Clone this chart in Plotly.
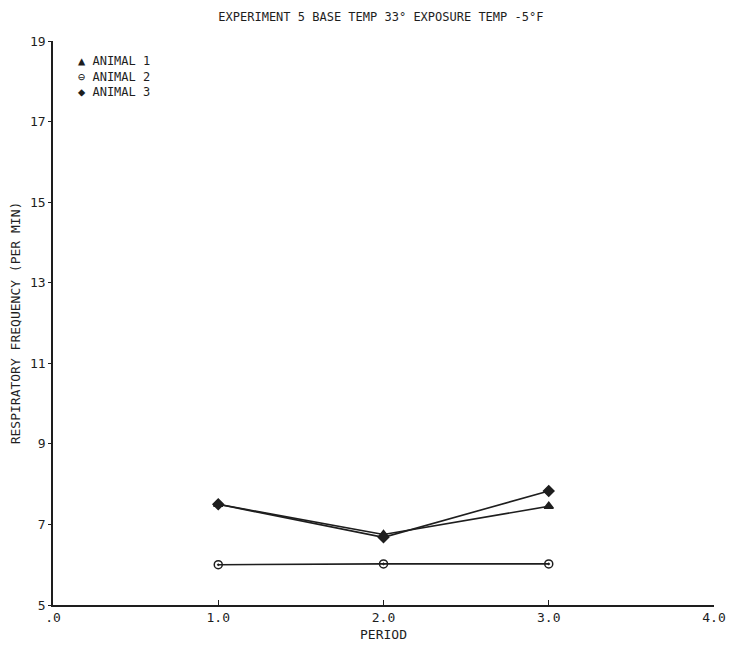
import plotly.graph_objects as go

periods = [1.0, 2.0, 3.0]
animal1 = [7.5, 6.75, 7.45]
animal2 = [6.0, 6.02, 6.02]
animal3 = [7.5, 6.68, 7.83]

series_names = ["ANIMAL 1", "ANIMAL 2", "ANIMAL 3"]
legend_glyphs = ["▲", "⊖", "◆"]
x_tickvals = [0, 1, 2, 3, 4]
x_ticktext = [".0", "1.0", "2.0", "3.0", "4.0"]
y_tickvals = [5, 7, 9, 11, 13, 15, 17, 19]

FONT = "DejaVu Sans Mono"
INK = "#1e1e1e"

fig = go.Figure()
symbols = ["triangle-up", "circle-open-dot", "diamond"]
for name, vals, sym in zip(series_names, [animal1, animal2, animal3], symbols):
    fig.add_trace(go.Scatter(
        x=periods, y=vals, name=name, mode="lines+markers", showlegend=False,
        line=dict(color=INK, width=1.6),
        marker=dict(symbol=sym, size=8, color=INK, line=dict(color=INK, width=1.5)),
    ))

legend_text = "<br>".join(f"{g} {n}" for g, n in zip(legend_glyphs, series_names))
fig.add_annotation(text=legend_text, xref="paper", yref="paper", x=0.035, y=0.981,
                   xanchor="left", yanchor="top", align="left", showarrow=False,
                   font=dict(family=FONT, size=12, color=INK))

fig.update_layout(
    width=734, height=646,
    paper_bgcolor="white", plot_bgcolor="white",
    margin=dict(l=45, r=28, t=33, b=49, autoexpand=False),
    title=dict(text="EXPERIMENT 5 BASE TEMP 33° EXPOSURE TEMP -5°F",
               x=0.508, xanchor="center", y=0.986, yanchor="middle", automargin=False,
               font=dict(family=FONT, size=12, color=INK)),
    font=dict(family=FONT, size=13, color=INK),
    showlegend=False,
)
fig.update_xaxes(range=[0, 4], tickvals=x_tickvals, ticktext=x_ticktext, automargin=False,
                 showgrid=False, zeroline=False, showline=True, linecolor=INK, linewidth=1.5,
                 ticks="inside", ticklen=5, tickcolor=INK,
                 title=dict(text="PERIOD", font=dict(family=FONT, size=13, color=INK), standoff=6),
                 tickfont=dict(family=FONT, size=13, color=INK))
fig.update_yaxes(range=[5, 19], tickvals=y_tickvals, automargin=False,
                 showgrid=False, zeroline=False, showline=True, linecolor=INK, linewidth=1.5,
                 ticks="outside", ticklen=3, tickcolor=INK,
                 title=dict(text="RESPIRATORY FREQUENCY (PER MIN)",
                            font=dict(family=FONT, size=13, color=INK), standoff=14),
                 tickfont=dict(family=FONT, size=13, color=INK))

fig.write_html("out.html")
